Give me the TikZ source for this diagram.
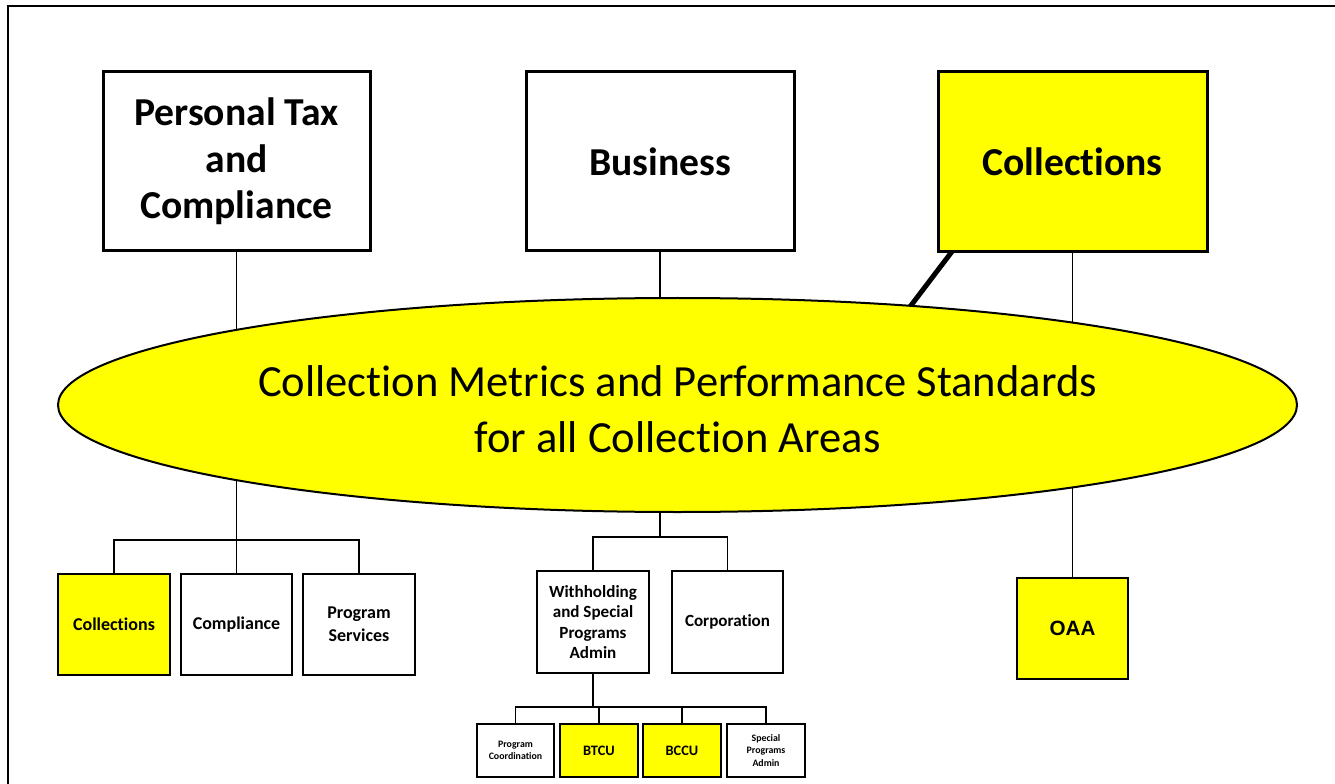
\documentclass[tikz,border=0pt]{standalone}
\usepackage{fontspec}
\setmainfont{Carlito}[Ligatures=NoCommon]
\newfontfamily\arialfont{Liberation Sans}
\usetikzlibrary{shapes.geometric,calc}
\definecolor{hl}{RGB}{255,255,0}
\begin{document}
\begin{tikzpicture}[x=0.75pt,y=-0.75pt,
  bigbox/.style={draw, line width=2.25pt, inner sep=0pt, outer sep=0pt, align=center,
    font=\fontsize{29.7}{35}\selectfont\bfseries},
  midbox/.style={draw, line width=1.7pt, inner sep=0pt, outer sep=0pt, align=center,
    minimum width=111*0.75pt, minimum height=101*0.75pt,
    font=\fontsize{13.5}{17}\selectfont\bfseries},
  smallbox/.style={draw, line width=1.1pt, inner sep=0pt, outer sep=0pt, align=center,
    minimum width=77*0.75pt, minimum height=53*0.75pt,
    font=\fontsize{7.4}{9.2}\selectfont\bfseries},
  conn/.style={line width=1.1pt},
  thickconn/.style={line width=1.9pt},
  fatconn/.style={line width=3.75pt},
  yel/.style={fill=hl}
]
\useasboundingbox (0,0) rectangle (1335,784);
% frame
\draw[line width=1.5pt] (8,784) -- (8,6) -- (1335,6);

% top boxes
\node[bigbox, minimum width=267*0.75pt, minimum height=179*0.75pt] (ptc) at (236.5,161.5) {Personal Tax\\and\\Compliance};
\node[bigbox, minimum width=268*0.75pt, minimum height=179*0.75pt] (bus) at (660,161.5) {Business};
\node[bigbox, yel, minimum width=269*0.75pt, minimum height=180*0.75pt] (col) at (1072.5,161.5) {Collections};

% bottom-left group
\node[midbox, yel, minimum width=112*0.75pt] (pcol) at (114,624.5) {Collections};
\node[midbox] (pcmp) at (236.5,624.5) {Compliance};
\node[midbox, minimum width=112*0.75pt] (ppsv) at (359,624.5) {Program\\Services};

% business group
\node[midbox, minimum width=112*0.75pt, minimum height=102*0.75pt, font=\fontsize{12.8}{15.4}\selectfont\bfseries] (bwh) at (593,622) {Withholding\\and Special\\Programs\\Admin};
\node[midbox, minimum height=102*0.75pt, font=\fontsize{12.8}{15.4}\selectfont\bfseries] (bcor) at (727.5,622) {Corporation};

% small boxes
\node[smallbox] (spc) at (515.5,750.5) {Program\\Coordination};
\node[smallbox, yel, minimum width=78*0.75pt, font=\fontsize{10.8}{13}\selectfont\bfseries] (sbt) at (599,750.5) {BTCU};
\node[smallbox, yel, minimum width=78*0.75pt, font=\fontsize{10.8}{13}\selectfont\bfseries] (sbc) at (682,750.5) {BCCU};
\node[smallbox, minimum width=78*0.75pt] (ssp) at (766,750.5) {Special\\Programs\\Admin};

% OAA
\node[midbox, yel, font=\fontsize{15.5}{18}\selectfont\arialfont\bfseries] (oaa) at (1072.5,628.5) {OAA};

% branch points
\coordinate (pbr) at (236.5,540);
\coordinate (bbr) at (660,537);
\coordinate (wbr) at (593,707);
\coordinate (cfat) at ($(col.south west)+(14,0)$);
\coordinate (efat) at (903,316);

% connectors
\draw[conn] (ptc.south) -- (pbr);
\draw[conn] (pcol.north) |- (pbr) -| (ppsv.north);
\draw[conn] (pbr) -- (pcmp.north);
\draw[conn] (bus.south) -- (bbr);
\draw[conn] (bwh.north) |- (bbr) -| (bcor.north);
\draw[conn] (col.south) -- (oaa.north);
\draw[fatconn] (cfat) -- (efat);
\draw[thickconn] (bwh.south) -- (wbr);
\draw[conn] (spc.north) |- (wbr) -| (ssp.north);
\draw[conn] (sbt.north) -- (sbt.north |- wbr);
\draw[conn] (sbc.north) -- (sbc.north |- wbr);

% ellipse
\node[ellipse, draw, line width=1.5pt, fill=hl, inner sep=0pt,
  minimum width=1239*0.75pt, minimum height=214*0.75pt] (ell) at (677.5,405) {};
\node[align=center, inner sep=0pt, font=\fontsize{33.4}{42}\selectfont] (elltext) at ($(ell.center)+(0,4)$)
  {Collection Metrics and Performance Standards\\for all Collection Areas};
\end{tikzpicture}
\end{document}
